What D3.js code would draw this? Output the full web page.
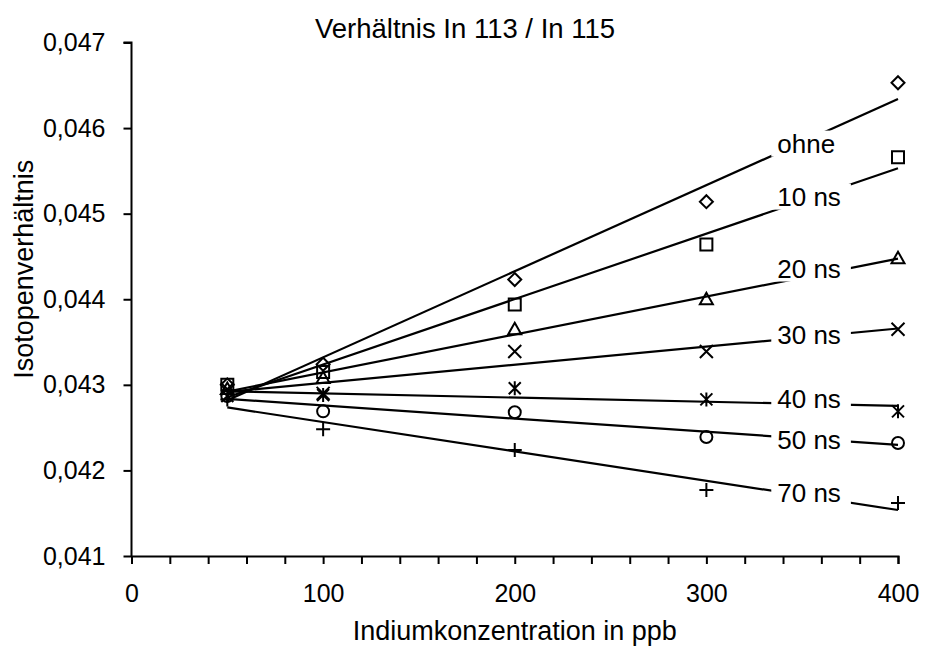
<!DOCTYPE html>
<html>
<head>
<meta charset="utf-8">
<script src="https://cdn.jsdelivr.net/npm/d3@7"></script>
<style>
  body { margin: 0; background: #fff; }
  text { font-family: "Liberation Sans", Arial, sans-serif; fill: #000; }
</style>
</head>
<body>
<svg width="925" height="646"></svg>
<script>
// Indium concentration (ppb)
const conc = [50, 100, 200, 300, 400];

// isotope ratio In113/In115 per dead-time setting
const ohne  = [0.04300, 0.04324, 0.04423, 0.04514, 0.04653];
const ns10  = [0.04300, 0.04315, 0.04394, 0.04464, 0.04566];
const ns20  = [0.04295, 0.04308, 0.04365, 0.04400, 0.04448];
const ns30  = [0.04295, 0.04290, 0.04339, 0.04339, 0.04365];
const ns40  = [0.04287, 0.04288, 0.04296, 0.04283, 0.04269];
const ns50  = [0.04287, 0.04269, 0.04268, 0.04239, 0.04232];
const ns70  = [0.04283, 0.04248, 0.04224, 0.04177, 0.04162];

const seriesNames = ["ohne", "10 ns", "20 ns", "30 ns", "40 ns", "50 ns", "70 ns"];
const markers = ["diamond", "square", "triangle", "cross", "asterisk", "circle", "plus"];
// where the in-plot labels sit (data units)
const labelX = 337;
const labelY = [0.04582, 0.04520, 0.04436, 0.04358, 0.04283, 0.04236, 0.04174];

const yTicks = [0.041, 0.042, 0.043, 0.044, 0.045, 0.046, 0.047];

const allSeries = [ohne, ns10, ns20, ns30, ns40, ns50, ns70];

var svg = d3.select("svg");
var margin = { left: 131.5, right: 27, top: 42.5, bottom: 90 };
var width = 925, height = 646;

var x = d3.scaleLinear().domain([0, 400]).range([margin.left, width - margin.right]);
var y = d3.scaleLinear().domain([0.041, 0.047]).range([height - margin.bottom, margin.top]);

let commaFmt = v => d3.format(".3f")(v).replace(".", ",");

// axes
let xAxis = d3.axisBottom(x)
  .tickValues(d3.range(0, 401, 20))
  .tickSize(8)
  .tickPadding(20)
  .tickFormat(d => d % 100 === 0 ? d : "");
let gx = svg.append("g")
  .attr("transform", `translate(0,${y(0.041)})`)
  .call(xAxis);

let yAxis = d3.axisLeft(y)
  .tickValues(yTicks)
  .tickSize(8)
  .tickPadding(18)
  .tickFormat(commaFmt);
let gy = svg.append("g")
  .attr("transform", `translate(${x(0)},0)`)
  .call(yAxis);

[gx, gy].forEach(g => {
  g.select(".domain").attr("stroke", "#000").attr("stroke-width", 2);
  g.selectAll(".tick line").attr("stroke", "#000").attr("stroke-width", 2);
  g.selectAll(".tick text").style("font-size", "25px").attr("fill", "#000")
    .style("font-family", '"Liberation Sans", Arial, sans-serif');
});
gy.select(".domain").attr("d", `M-8,${y(0.047)}H0V${y(0.041)}`);

// least-squares trend line for one series
function fit(vals) {
  let mx = d3.mean(conc), my = d3.mean(vals);
  let sxy = d3.sum(conc, (c, i) => (c - mx) * (vals[i] - my));
  let sxx = d3.sum(conc, c => (c - mx) * (c - mx));
  let b = sxy / sxx;
  return c => my + b * (c - mx);
}

let plot = svg.append("g");

let line = d3.line().x(d => x(d[0])).y(d => y(d[1]));
allSeries.forEach(vals => {
  let f = fit(vals);
  plot.append("path")
    .attr("d", line([[50, f(50)], [400, f(400)]]))
    .attr("fill", "none")
    .attr("stroke", "#000")
    .attr("stroke-width", 2.2);
});

// labels with white background that cuts the lines
seriesNames.forEach((name, i) => {
  let g = plot.append("g");
  let bg = g.append("rect").attr("fill", "#fff");
  let t = g.append("text")
    .attr("x", x(labelX))
    .attr("y", y(labelY[i]))
    .attr("dy", "0.35em")
    .style("font-size", "26px")
    .text(name);
  let bb = t.node().getBBox();
  bg.attr("x", bb.x - 6).attr("y", bb.y + 2)
    .attr("width", bb.width + (name === "ohne" ? 12 : 16))
    .attr("height", bb.height - 4);
});

// marker shapes
function drawMarker(g, type, cx, cy) {
  let s = 6.5;
  let p = g.append("path").attr("fill", "none").attr("stroke", "#000").attr("stroke-width", 2);
  let d;
  switch (type) {
    case "diamond":
      d = `M${cx},${cy - s}L${cx + s},${cy}L${cx},${cy + s}L${cx - s},${cy}Z`; break;
    case "square":
      d = `M${cx - 6},${cy - 6}h12v12h-12Z`; break;
    case "triangle":
      d = `M${cx},${cy - 6.5}L${cx + 6.5},${cy + 5}L${cx - 6.5},${cy + 5}Z`; break;
    case "cross":
      d = `M${cx - 6.5},${cy - 6.5}L${cx + 6.5},${cy + 6.5}M${cx + 6.5},${cy - 6.5}L${cx - 6.5},${cy + 6.5}`; break;
    case "asterisk":
      d = `M${cx - 6},${cy - 6}L${cx + 6},${cy + 6}M${cx + 6},${cy - 6}L${cx - 6},${cy + 6}M${cx},${cy - 7}V${cy + 7}`; break;
    case "circle":
      d = `M${cx - 6},${cy}a6,6 0 1,0 12,0a6,6 0 1,0 -12,0`; break;
    case "plus":
      d = `M${cx - 7},${cy}H${cx + 7}M${cx},${cy - 7}V${cy + 7}`; break;
  }
  p.attr("d", d);
}

allSeries.forEach((vals, i) => {
  vals.forEach((v, j) => drawMarker(plot, markers[i], x(conc[j]), y(v)));
});

// titles
svg.append("text")
  .attr("x", 465).attr("y", 38)
  .attr("text-anchor", "middle")
  .style("font-size", "27.5px")
  .text("Verhältnis In 113 / In 115");

svg.append("text")
  .attr("x", (x(0) + x(400)) / 2).attr("y", 640)
  .attr("text-anchor", "middle")
  .style("font-size", "27px")
  .text("Indiumkonzentration in ppb");

svg.append("text")
  .attr("transform", `translate(33,${y(0.044) - 30}) rotate(-90)`)
  .attr("text-anchor", "middle")
  .style("font-size", "27px")
  .text("Isotopenverhältnis");
</script>
</body>
</html>
